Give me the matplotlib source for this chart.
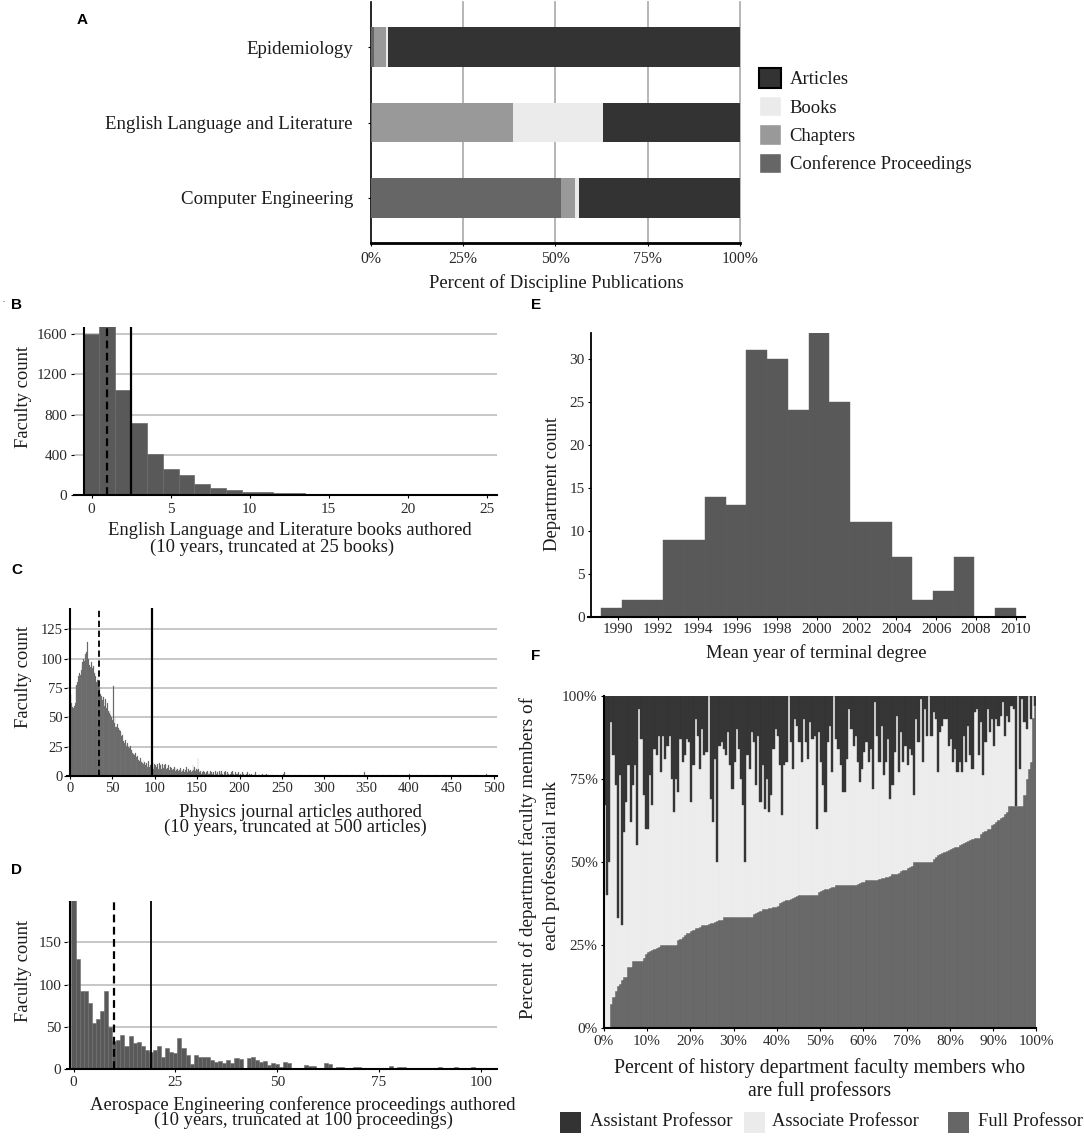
import numpy as np
import matplotlib
matplotlib.use("Agg")
import matplotlib.pyplot as plt
from matplotlib.patches import Patch, Rectangle

plt.rcParams['font.family'] = ['Liberation Serif', 'DejaVu Serif']

W, H = 1084, 1136

# ---------------- data ----------------
# A: share of publication types per discipline (percent)
a_disciplines = ["Computer Engineering", "English Language and Literature", "Epidemiology"]
a_conf = [51.6, 0.3, 1.0]
a_chapters = [3.6, 38.2, 3.1]
a_books = [1.3, 24.5, 0.6]
a_articles = [43.5, 37.0, 95.3]

# B: English books authored
b_books = list(range(26))
b_counts = [1600, 1690, 1046, 714, 405, 256, 199, 110, 73, 50, 30, 30, 20, 17, 13, 3,
            10, 4, 2, 2, 1, 1, 1, 1, 1, 1]
b_median, b_mean = 1, 2.5

# C: physics journal articles (bins 0..239 listed, sparse tail after)
c_counts = [70, 69, 62, 59, 58, 60, 62, 77, 78, 80,
            85, 88, 86, 90, 95, 97, 100, 98, 104, 106,
            103, 114, 100, 95, 93, 97, 92, 90, 94, 88,
            85, 80, 82, 84, 78, 76, 70, 68, 65, 67,
            63, 60, 66, 58, 62, 55, 54, 56, 52, 50,
            48, 77, 45, 50, 42, 42, 44, 41, 39, 38,
            36, 34, 35, 30, 28, 31, 27, 26, 28, 25,
            24, 26, 22, 21, 20, 19, 18, 20, 16, 15,
            17, 14, 13, 15, 12, 11, 14, 10, 12, 9,
            11, 8, 10, 13, 8, 9, 7, 12, 6, 8,
            10, 9, 8, 10, 6, 11, 7, 9, 6, 10,
            7, 9, 8, 10, 6, 7, 9, 5, 8, 6,
            7, 5, 6, 8, 4, 7, 5, 6, 4, 5,
            7, 3, 5, 4, 6, 3, 5, 8, 4, 3,
            6, 4, 5, 3, 4, 9, 5, 8, 4, 6,
            5, 15, 6, 3, 4, 2, 3, 4, 2, 3,
            2, 3, 4, 2, 3, 2, 4, 3, 2, 3,
            1, 2, 4, 2, 3, 1, 4, 2, 3, 4,
            2, 1, 3, 4, 2, 1, 3, 2, 1, 2,
            3, 1, 4, 2, 1, 3, 2, 1, 2, 3,
            1, 2, 1, 3, 1, 2, 0, 1, 2, 3,
            1, 0, 2, 1, 2, 1, 0, 2, 1, 3,
            1, 0, 1, 2, 1, 0, 1, 2, 0, 1,
            0, 1, 2, 0, 1, 0, 1, 0, 0, 1]
c_tail_bins = [244, 252, 253, 258, 266, 271, 276, 283, 290, 297, 301, 305, 312, 318,
               326, 333, 340, 347, 355, 362, 370, 378, 385, 392, 401, 409, 415, 423,
               432, 441, 450, 461, 472, 480, 491]
c_tail_counts = [1, 2, 3, 1, 1, 1, 1, 1, 1, 1, 1, 1, 1, 1, 1, 1, 1, 3, 1, 1, 1, 1, 1,
                 1, 2, 1, 1, 1, 1, 1, 1, 1, 1, 1, 2]
c_median, c_mean = 34, 97

# D: aerospace conference proceedings
d_counts = [210, 130, 93, 93, 78, 55, 59, 69, 92, 50,
            33, 35, 40, 28, 39, 31, 32, 27, 23, 21,
            23, 28, 14, 25, 20, 19, 37, 25, 17, 6,
            17, 15, 14, 14, 11, 9, 10, 8, 11, 7,
            13, 12, 2, 13, 15, 11, 9, 10, 5, 8,
            6, 3, 9, 8, 1, 1, 1, 5, 4, 4,
            1, 1, 7, 6, 2, 3, 3, 1, 2, 3,
            3, 2, 1, 0, 1, 2, 0, 2, 4, 1,
            3, 3, 1, 1, 0, 1, 2, 0, 2, 1,
            3, 1, 2, 0, 3, 2, 0, 1, 3, 0,
            0, 1, 0, 1, 1]
d_median, d_mean = 10, 19

# E: mean year of terminal degree
e_bin_start = 1989.15
e_bin_width = 1.043
e_counts = [1, 2, 2, 9, 9, 14, 13, 31, 30, 24, 33, 25, 11, 11, 7, 2, 3, 7, 0, 1]

# F: history departments, sorted by share of full professors (percent)
f_full = [0, 0, 0, 7.1, 9.1, 11.1, 12.5, 13.3, 14.3, 15.4,
          15.4, 18.2, 18.2, 20, 20, 20, 20, 20, 21.1, 22.2,
          22.7, 23.1, 23.5, 23.8, 24.1, 24.4, 25, 25, 25, 25,
          25, 25, 25, 25, 26.3, 26.7, 27.3, 27.8, 28.6, 28.6,
          29.2, 29.4, 30, 30, 30.4, 30.8, 30.8, 31, 31.3, 31.6,
          31.6, 31.8, 32, 32.4, 32.5, 33.3, 33.3, 33.3, 33.3, 33.3,
          33.3, 33.3, 33.3, 33.3, 33.3, 33.3, 33.3, 33.3, 33.3, 34.3,
          34.6, 35, 35.3, 35.7, 35.7, 35.9, 36, 36.1, 36.4, 36.4,
          36.8, 37.5, 37.9, 38.1, 38.5, 38.5, 38.9, 39.1, 39.4, 39.6,
          40, 40, 40, 40, 40, 40, 40, 40, 40, 40.9,
          41.2, 41.4, 41.7, 41.7, 42.1, 42.3, 42.5, 42.9, 42.9, 42.9,
          42.9, 42.9, 42.9, 42.9, 42.9, 42.9, 42.9, 43.2, 43.5, 43.8,
          44, 44.4, 44.4, 44.4, 44.4, 44.4, 44.4, 44.8, 45, 45.2,
          45.5, 45.5, 45.8, 46.2, 46.2, 46.4, 46.7, 47.1, 47.4, 47.6,
          48, 48.3, 48.6, 50, 50, 50, 50, 50, 50, 50,
          50, 50, 50.8, 51.3, 51.9, 52.2, 52.6, 52.9, 53.3, 53.6,
          53.8, 54.2, 54.5, 54.5, 55, 55.2, 55.6, 56, 56.3, 56.5,
          56.8, 57.1, 57.1, 57.1, 58.3, 58.8, 59.1, 60, 60, 61.1,
          61.5, 62.1, 62.5, 63.2, 63.6, 64.3, 65, 66.7, 66.7, 66.7,
          66.7, 66.7, 66.7, 66.7, 70, 75, 77.8, 80, 93.3, 97]
f_assistant = [33, 60, 50, 8, 18, 27, 67, 24, 69, 41,
               32, 21, 38, 27, 21, 45, 4, 13, 30, 40,
               40, 24, 33, 16, 18, 12, 23, 12, 19, 15,
               12, 25, 35, 25, 29, 13, 20, 18, 13, 14,
               32, 21, 7, 12, 22, 10, 18, 17, 0, 31,
               38, 19, 50, 15, 14, 16, 18, 11, 21, 28,
               20, 10, 16, 25, 33, 50, 18, 22, 11, 14,
               27, 12, 32, 21, 34, 25, 35, 30, 16, 10,
               12, 21, 36, 21, 20, 0, 14, 22, 7, 9,
               14, 20, 7, 14, 19, 8, 13, 12, 40, 11,
               20, 27, 35, 14, 9, 23, 0, 13, 16, 21,
               29, 29, 19, 4, 10, 15, 12, 20, 26, 22,
               17, 14, 20, 16, 28, 2, 12, 20, 9, 24,
               20, 13, 31, 27, 17, 6, 23, 11, 20, 15,
               21, 16, 18, 30, 7, 14, 1, 20, 4, 12,
               0, 12, 5, 7, 23, 11, 9, 7, 7, 15,
               13, 20, 16, 23, 20, 23, 12, 20, 9, 18,
               22, 5, 4, 18, 8, 24, 14, 4, 11, 7,
               15, 7, 9, 6, 2, 12, 6, 8, 3, 4,
               33.3, 0, 22, 1, 8, 10, 0, 7, 0, 3]

# ---------------- figure ----------------
fig = plt.figure(figsize=(W / 100, H / 100), dpi=100)
TXT = '#1a1a1a'
BAR = '#595959'
GRID = '#b8b8b8'
LAB = 13.4


def px_axes(l, t, r, b):
    return fig.add_axes([l / W, 1 - b / H, (r - l) / W, (b - t) / H])


def ptext(x, y, s, **kw):
    kw.setdefault('color', TXT)
    fig.text(x / W, 1 - y / H, s, **kw)


def panel_label(x, y, s):
    ptext(x, y, s, family=['Liberation Sans', 'DejaVu Sans'], weight='bold',
          fontsize=11, ha='center', va='center', color='black')


def hist_style(ax, xlim, ylim, xticks, yticks, tsize=11, xpad=3.5, ypad=2.3):
    ax.set_xlim(*xlim)
    ax.set_ylim(*ylim)
    ax.set_xticks(xticks)
    ax.set_yticks(yticks)
    ax.yaxis.grid(True, color=GRID, lw=1.1)
    ax.set_axisbelow(True)
    for s in ['top', 'right', 'left']:
        ax.spines[s].set_visible(False)
    ax.spines['bottom'].set_linewidth(1.5)
    ax.tick_params(axis='both', length=2.2, width=0.8, labelsize=tsize, labelcolor='#2a2a2a')
    ax.tick_params(axis='x', pad=xpad)
    ax.tick_params(axis='y', pad=ypad)


# ----- A -----
axA = px_axes(370.8, 2, 740, 243)
ypos = np.arange(len(a_disciplines))
left = np.zeros(len(a_disciplines))
a_series = [("Conference Proceedings", a_conf, '#666666'),
            ("Chapters", a_chapters, '#999999'),
            ("Books", a_books, '#ebebeb'),
            ("Articles", a_articles, '#333333')]
for name, vals, col in a_series:
    axA.barh(ypos, vals, left=left, height=0.53, color=col, zorder=3)
    left += np.array(vals)
for v in [25, 50, 75, 100]:
    axA.axvline(v, color='#b0b0b0', lw=1.3, zorder=1, clip_on=False)
axA.set_xlim(0, 100)
axA.set_ylim(-0.6, 2.6)
axA.set_yticks(ypos)
axA.set_yticklabels(a_disciplines, fontsize=13.6, color=TXT)
axA.set_xticks([0, 25, 50, 75, 100])
axA.set_xticklabels(['0%', '25%', '50%', '75%', '100%'], fontsize=11.3, color='#2a2a2a')
for s in ['top', 'right']:
    axA.spines[s].set_visible(False)
axA.spines['left'].set_linewidth(1.2)
axA.spines['bottom'].set_linewidth(2)
axA.tick_params(axis='y', length=2.2, width=0.8, pad=10.7)
axA.tick_params(axis='x', length=2.2, width=0.8, pad=3.3)
handles = [Patch(facecolor='#333333', edgecolor='black', lw=1.5, label='Articles'),
           Patch(facecolor='#ebebeb', edgecolor='white', lw=1, label='Books'),
           Patch(facecolor='#999999', edgecolor='white', lw=1, label='Chapters'),
           Patch(facecolor='#666666', edgecolor='white', lw=1, label='Conference Proceedings')]
leg = axA.legend(handles=handles, loc='upper left', bbox_to_anchor=(759 / W, 1 - 68 / H),
                 bbox_transform=fig.transFigure, frameon=False, borderpad=0, borderaxespad=0,
                 handlelength=1.2, handleheight=1.3, labelspacing=0.42, handletextpad=0.45,
                 fontsize=13.4)
for t in leg.get_texts():
    t.set_color(TXT)
ptext(556, 283, 'Percent of Discipline Publications', fontsize=LAB, ha='center', va='center')
panel_label(82.5, 19.5, 'A')

# ----- B -----
axB = px_axes(73.5, 327.3, 497.2, 495)
axB.bar(b_books, b_counts, width=1, color=BAR, edgecolor='#6a6a6a', lw=0.5)
hist_style(axB, (-1.14, 25.65), (0, 1670), [0, 5, 10, 15, 20, 25], [0, 400, 800, 1200, 1600])
axB.axvline(-0.5, color='black', lw=1.5)
axB.axvline(b_median, color='black', lw=1.6, dashes=(3.5, 2))
axB.axvline(b_mean, color='black', lw=1.6)
ptext(24, 397, 'Faculty count', fontsize=LAB, rotation=90, ha='center', va='center')
ptext(290, 530.7, 'English Language and Literature books authored', fontsize=LAB, ha='center', va='center')
ptext(272, 547.7, '(10 years, truncated at 25 books)', fontsize=LAB, ha='center', va='center')
panel_label(17, 305, 'B')
ptext(4, 300, '.', fontsize=6, ha='center', va='center')

# ----- C -----
axC = px_axes(67.3, 607.7, 497.2, 776)
c_x = list(range(len(c_counts))) + c_tail_bins
c_y = c_counts + c_tail_counts
axC.bar(c_x, c_y, width=1, color=BAR, edgecolor='#8e8e8e', lw=0.2)
hist_style(axC, (-3.3, 504), (0, 143.5), list(range(0, 501, 50)), [0, 25, 50, 75, 100, 125],
           tsize=10.5, xpad=2.4, ypad=1.2)
axC.axvline(-0.5, color='black', lw=1.5)
axC.axvline(c_median, color='black', lw=1.3, dashes=(3.5, 2))
axC.axvline(c_mean, color='black', lw=1.6)
ptext(24, 677, 'Faculty count', fontsize=LAB, rotation=90, ha='center', va='center')
ptext(300, 812.3, 'Physics journal articles authored', fontsize=LAB, ha='center', va='center')
ptext(295, 827.7, '(10 years, truncated at 500 articles)', fontsize=LAB, ha='center', va='center')
panel_label(17, 569.5, 'C')

# ----- D -----
axD = px_axes(66.6, 901, 497.2, 1069.3)
axD.bar(range(len(d_counts)), d_counts, width=1, color=BAR, edgecolor='#6e6e6e', lw=0.4)
hist_style(axD, (-1.7, 104), (0, 199), [0, 25, 50, 75, 100], [0, 50, 100, 150],
           tsize=11, xpad=2.6, ypad=1.5)
axD.axvline(-0.8, color='black', lw=1.5)
axD.axvline(d_median, color='black', lw=1.6, dashes=(3.5, 2))
axD.axvline(d_mean, color='black', lw=1.3)
ptext(24, 971, 'Faculty count', fontsize=LAB, rotation=90, ha='center', va='center')
ptext(303, 1112.5, 'Aerospace Engineering conference proceedings authored\n'
      '(10 years, truncated at 100 proceedings)', fontsize=LAB, ha='center', va='center',
      multialignment='center', linespacing=0.82)
panel_label(17, 870.5, 'D')

# ----- E -----
axE = px_axes(588.5, 333, 1024.9, 617)
e_left = e_bin_start + np.arange(len(e_counts)) * e_bin_width
axE.bar(e_left, e_counts, width=e_bin_width, align='edge', color=BAR, edgecolor='#5e5e5e', lw=0.3)
axE.set_xlim(1988.51, 2010.46)
axE.set_ylim(0, 33)
axE.set_xticks(list(range(1990, 2011, 2)))
axE.set_yticks([0, 5, 10, 15, 20, 25, 30])
for s in ['top', 'right']:
    axE.spines[s].set_visible(False)
axE.spines['left'].set_position(('data', 1988.64))
axE.spines['left'].set_linewidth(1.3)
axE.spines['bottom'].set_linewidth(1.5)
axE.tick_params(axis='both', length=2.2, width=0.8, labelsize=11, labelcolor='#2a2a2a')
axE.tick_params(axis='x', pad=2.4)
axE.tick_params(axis='y', pad=2.3)
ptext(552.5, 484, 'Department count', fontsize=LAB, rotation=90, ha='center', va='center')
ptext(816, 653, 'Mean year of terminal degree', fontsize=LAB, ha='center', va='center')
panel_label(536, 305, 'E')

# ----- F -----
axF = px_axes(603.7, 695.7, 1036.4, 1027.7)
full = np.array(f_full)
asst = np.array(f_assistant)
assoc = 100 - full - asst
n = len(full)
fx = (np.arange(n) + 0.5) * 100 / n
fw = 100 / n
axF.bar(fx, full, width=fw, color='#666666', edgecolor='#747474', lw=0.3)
axF.bar(fx, assoc, bottom=full, width=fw, color='#ebebeb', edgecolor='#f3f3f3', lw=0.3)
axF.bar(fx, asst, bottom=full + assoc, width=fw, color='#333333', edgecolor='#3e3e3e', lw=0.3)
axF.set_xlim(0, 100)
axF.set_ylim(0, 100)
axF.set_xticks(list(range(0, 101, 10)))
axF.set_xticklabels(['%d%%' % v for v in range(0, 101, 10)])
axF.set_yticks([0, 25, 50, 75, 100])
axF.set_yticklabels(['0%', '25%', '50%', '75%', '100%'])
for s in ['top', 'right']:
    axF.spines[s].set_visible(False)
axF.spines['left'].set_linewidth(1.5)
axF.spines['bottom'].set_linewidth(1.5)
axF.tick_params(axis='both', length=2.2, width=0.8, labelsize=11, labelcolor='#2a2a2a')
axF.tick_params(axis='x', pad=2.9)
axF.tick_params(axis='y', pad=2.3)
ptext(528, 858, 'Percent of department faculty members of', fontsize=13.8, rotation=90,
      ha='center', va='center')
ptext(550.7, 865, 'each professorial rank', fontsize=13.8, rotation=90, ha='center', va='center')
ptext(820, 1068.3, 'Percent of history department faculty members who', fontsize=14.2,
      ha='center', va='center')
ptext(820, 1090.7, 'are full professors', fontsize=14.2, ha='center', va='center')
panel_label(536, 656, 'F')

f_legend = [("Assistant Professor", '#333333', 560.4, 590.3),
            ("Associate Professor", '#ebebeb', 743.6, 772.4),
            ("Full Professor", '#666666', 948.4, 978.0)]
for label, col, sx, tx in f_legend:
    fig.add_artist(Rectangle((sx / W, 1 - 1132.7 / H), 21 / W, 21 / H, transform=fig.transFigure,
                             facecolor=col, edgecolor='none'))
    ptext(tx, 1121.5, label, fontsize=13.3, ha='left', va='center')

fig.savefig('out.png', dpi=100)
